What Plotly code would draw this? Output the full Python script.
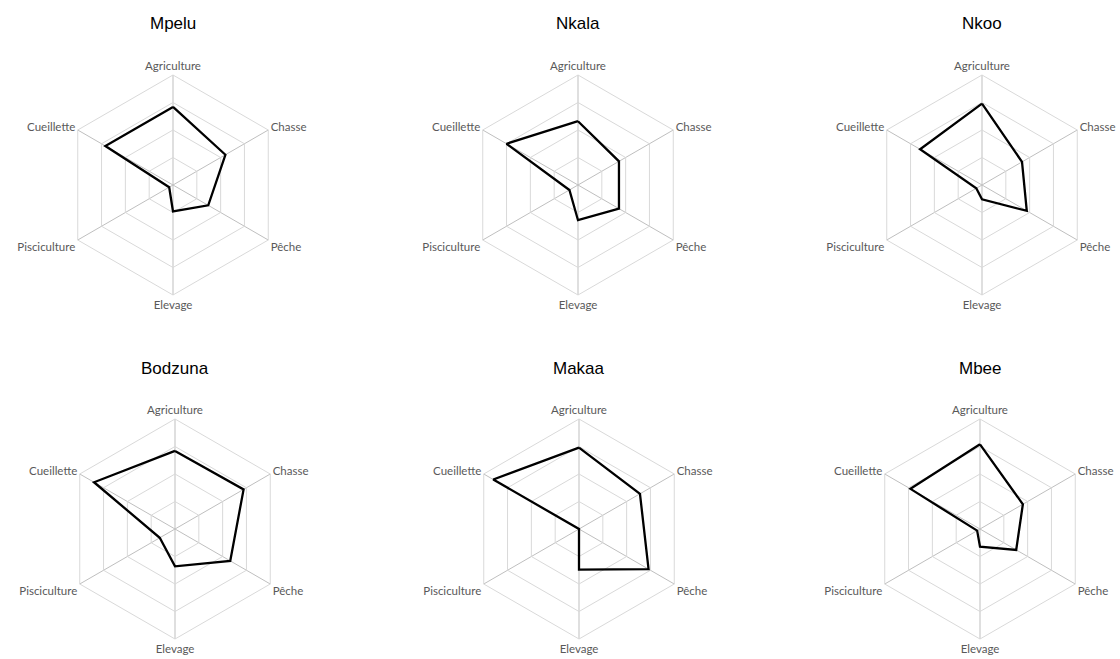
import plotly.graph_objects as go

# Activités par village (échelle 0-100)
activites = ['Agriculture', 'Chasse', 'Pêche', 'Elevage', 'Pisciculture', 'Cueillette']
villages = ['Mpelu', 'Nkala', 'Nkoo', 'Bodzuna', 'Makaa', 'Mbee']

mpelu = [71, 55, 37, 24, 4, 71]
nkala = [58, 43, 43, 32, 9, 75]
nkoo = [74, 42, 47, 13, 6, 65]
bodzuna = [71, 72, 58, 34, 16, 85]
makaa = [74, 64, 73, 37, 0, 90]
mbee = [77, 45, 38, 16, 3, 73]

valeurs = [mpelu, nkala, nkoo, bodzuna, makaa, mbee]

W, H = 1120, 659

# centres des radars en pixels (x, y depuis le haut)
centres = [(173, 185), (578, 185), (982, 185), (175, 529), (579, 529), (980, 529)]
R = 110

fig = go.Figure()
annotations = []

for i, (nom, vals) in enumerate(zip(villages, valeurs)):
    polar = 'polar' if i == 0 else 'polar' + str(i + 1)
    fig.add_trace(go.Scatterpolar(
        r = vals + [vals[0]],
        theta = activites + [activites[0]],
        mode = 'lines',
        line = dict(color = 'black', width = 2.3),
        subplot = polar,
        showlegend = False))

    cx, cy = centres[i]
    fig.update_layout(**{polar: dict(
        domain = dict(x = [(cx - R) / W, (cx + R) / W],
                      y = [(H - cy - R) / H, (H - cy + R) / H]),
        gridshape = 'linear',
        bgcolor = 'white',
        radialaxis = dict(range = [0, 100], tickvals = [25, 50, 75, 100],
                          showticklabels = False, showline = False, ticks = '',
                          gridcolor = '#d9d9d9', gridwidth = 1),
        angularaxis = dict(rotation = 90, direction = 'clockwise',
                           showline = True, linecolor = '#d9d9d9', linewidth = 1,
                           gridcolor = '#bfbfbf', gridwidth = 1, ticks = '',
                           tickfont = dict(family = 'Lato', size = 11.5, color = '#595959'))
    )})

    annotations.append(dict(
        text = nom, x = cx / W, y = (H - cy + 161) / H,
        xref = 'paper', yref = 'paper', showarrow = False,
        xanchor = 'center', yanchor = 'middle',
        font = dict(family = 'Liberation Sans', size = 17, color = 'black')))

fig.update_layout(
    width = W, height = H,
    margin = dict(l = 0, r = 0, t = 0, b = 0),
    paper_bgcolor = 'white',
    plot_bgcolor = 'white',
    annotations = annotations)

# pas de marge autour de la figure dans la page
fig.write_html("out.html", config = {'displayModeBar': False},
               post_script = "document.body.style.margin='0';document.body.style.overflow='hidden';")
